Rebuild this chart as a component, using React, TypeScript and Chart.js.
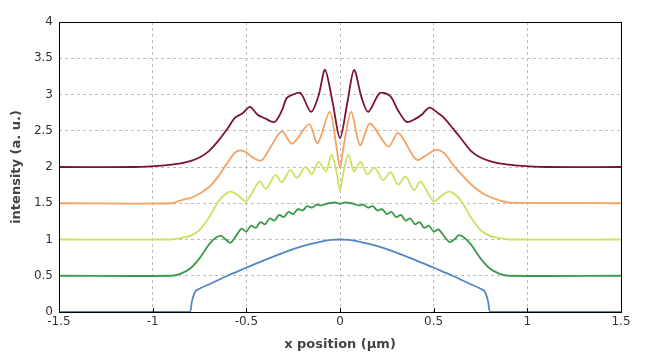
import React, { useEffect, useRef } from 'react';
import { Chart, registerables } from 'chart.js';

Chart.register(...registerables);

// Axis tick values
const X_TICKS = [-1.5, -1, -0.5, 0, 0.5, 1, 1.5];
const Y_TICKS = [0, 0.5, 1, 1.5, 2, 2.5, 3, 3.5, 4];

// Series 1 (blue, baseline 0)
const X1 = [-1.5, -0.8, -0.79, -0.775, -0.75, -0.7, -0.6, -0.5, -0.4, -0.3, -0.2, -0.1, -0.05, 0, 0.05, 0.1, 0.2, 0.3, 0.4, 0.5, 0.6, 0.7, 0.75, 0.775, 0.79, 0.8, 1.5];
const Y1 = [0, 0, 0.15, 0.27, 0.32, 0.38, 0.5, 0.61, 0.72, 0.82, 0.91, 0.97, 0.995, 1.0, 0.995, 0.97, 0.91, 0.82, 0.72, 0.61, 0.5, 0.38, 0.32, 0.27, 0.15, 0, 0];

// Series 2 (green, baseline 0.5)
const X2 = [-1.5, -0.9, -0.85, -0.8, -0.75, -0.7, -0.66, -0.635, -0.61, -0.585, -0.555, -0.525, -0.5, -0.475, -0.45, -0.425, -0.4, -0.375, -0.35, -0.325, -0.3, -0.275, -0.25, -0.225, -0.2, -0.175, -0.15, -0.125, -0.1, -0.06, -0.02, 0, 0.02, 0.06, 0.1, 0.125, 0.15, 0.175, 0.2, 0.225, 0.25, 0.275, 0.3, 0.325, 0.35, 0.375, 0.4, 0.425, 0.45, 0.475, 0.5, 0.525, 0.555, 0.585, 0.61, 0.635, 0.66, 0.7, 0.75, 0.8, 0.85, 0.9, 1.5];
const Y2 = [0.5, 0.5, 0.53, 0.6, 0.74, 0.93, 1.03, 1.05, 1.0, 0.955, 1.05, 1.15, 1.11, 1.19, 1.16, 1.24, 1.21, 1.29, 1.26, 1.34, 1.31, 1.38, 1.35, 1.42, 1.4, 1.46, 1.44, 1.48, 1.47, 1.5, 1.51, 1.49, 1.51, 1.5, 1.47, 1.48, 1.44, 1.46, 1.4, 1.42, 1.35, 1.38, 1.31, 1.34, 1.26, 1.29, 1.21, 1.24, 1.16, 1.19, 1.11, 1.14, 1.05, 0.965, 1.0, 1.06, 1.03, 0.93, 0.74, 0.6, 0.53, 0.5, 0.5];

// Series 3 (yellow-green, baseline 1)
const X3 = [-1.5, -0.9, -0.85, -0.8, -0.75, -0.7, -0.65, -0.61, -0.58, -0.55, -0.5, -0.43, -0.395, -0.345, -0.31, -0.265, -0.23, -0.185, -0.15, -0.115, -0.075, -0.045, -0.02, 0, 0.02, 0.045, 0.075, 0.11, 0.145, 0.185, 0.23, 0.27, 0.31, 0.35, 0.395, 0.43, 0.5, 0.55, 0.58, 0.61, 0.65, 0.7, 0.75, 0.8, 0.85, 0.9, 1.5];
const Y3 = [1.0, 1.0, 1.02, 1.05, 1.13, 1.3, 1.52, 1.63, 1.66, 1.62, 1.53, 1.8, 1.7, 1.89, 1.79, 1.96, 1.85, 2.0, 1.9, 2.07, 1.94, 2.17, 1.95, 1.68, 1.95, 2.17, 1.94, 2.07, 1.9, 1.99, 1.82, 1.93, 1.76, 1.87, 1.68, 1.8, 1.53, 1.62, 1.66, 1.63, 1.52, 1.3, 1.13, 1.05, 1.02, 1.0, 1.0];

// Series 4 (orange, baseline 1.5)
const X4 = [-1.5, -0.9, -0.85, -0.78, -0.7, -0.65, -0.6, -0.56, -0.53, -0.5, -0.47, -0.42, -0.37, -0.31, -0.255, -0.165, -0.12, -0.055, -0.02, 0, 0.02, 0.06, 0.107, 0.16, 0.258, 0.311, 0.409, 0.47, 0.516, 0.56, 0.6, 0.658, 0.7, 0.765, 0.85, 0.907, 1.5];
const Y4 = [1.5, 1.5, 1.54, 1.59, 1.72, 1.87, 2.06, 2.2, 2.23, 2.2, 2.14, 2.09, 2.28, 2.49, 2.32, 2.59, 2.33, 2.76, 2.3, 1.99, 2.3, 2.76, 2.3, 2.6, 2.28, 2.47, 2.1, 2.18, 2.24, 2.18, 2.04, 1.87, 1.76, 1.63, 1.54, 1.51, 1.5];

// Series 5 (dark red, baseline 2)
const X5 = [-1.5, -1.1, -0.95, -0.85, -0.8, -0.75, -0.7, -0.65, -0.6, -0.56, -0.52, -0.48, -0.44, -0.4, -0.35, -0.31, -0.285, -0.25, -0.21, -0.155, -0.115, -0.08, -0.04, 0, 0.04, 0.075, 0.115, 0.151, 0.213, 0.267, 0.31, 0.356, 0.4, 0.436, 0.477, 0.52, 0.55, 0.6, 0.65, 0.7, 0.75, 0.8, 0.85, 0.95, 1.1, 1.5];
const Y5 = [2.0, 2.0, 2.02, 2.05, 2.08, 2.13, 2.22, 2.36, 2.53, 2.68, 2.74, 2.83, 2.72, 2.67, 2.62, 2.78, 2.95, 3.0, 3.02, 2.76, 2.98, 3.34, 2.9, 2.4, 2.9, 3.34, 2.96, 2.76, 3.02, 2.98, 2.78, 2.62, 2.66, 2.72, 2.82, 2.75, 2.69, 2.54, 2.38, 2.22, 2.13, 2.08, 2.05, 2.02, 2.0, 2.0];

const SERIES = [
  { x: X1, y: Y1, color: '#5287c4', mono: true },
  { x: X2, y: Y2, color: '#3d9a4a', mono: false },
  { x: X3, y: Y3, color: '#cfe060', mono: false },
  { x: X4, y: Y4, color: '#f4a261', mono: false },
  { x: X5, y: Y5, color: '#7c1233', mono: false },
];

const fmt = (v: number) => String(Math.round(v * 10) / 10);

const framePlugin = {
  id: 'frame',
  afterDatasetsDraw(chart: any) {
    const { ctx, chartArea } = chart;
    const xs = chart.scales.x;
    ctx.save();
    ctx.strokeStyle = '#000';
    ctx.lineWidth = 1;
    ctx.setLineDash([]);
    ctx.strokeRect(Math.round(chartArea.left) + 0.5, Math.round(chartArea.top) + 0.5, Math.round(chartArea.right - chartArea.left), Math.round(chartArea.bottom - chartArea.top));
    ctx.beginPath();
    X_TICKS.forEach((t) => {
      const px = Math.round(xs.getPixelForValue(t)) + 0.5;
      ctx.moveTo(px, chartArea.bottom);
      ctx.lineTo(px, chartArea.bottom - 4);
    });
    ctx.stroke();
    ctx.restore();
  },
};

export default function App() {
  const ref = useRef<HTMLCanvasElement | null>(null);
  useEffect(() => {
    document.body.style.margin = '0';
    if (!ref.current) return;
    const chart = new Chart(ref.current, {
      type: 'line',
      data: {
        datasets: SERIES.map((s) => ({
          data: s.x.map((xv, i) => ({ x: xv, y: s.y[i] })),
          borderColor: s.color,
          borderWidth: 1.8,
          pointRadius: 0,
          fill: false,
          tension: s.mono ? 0 : 0.3,
          cubicInterpolationMode: s.mono ? ('monotone' as const) : ('default' as const),
        })),
      },
      options: {
        animation: false,
        responsive: false,
        events: [],
        layout: { padding: { top: 22, right: 44, left: 0, bottom: 0 } },
        plugins: { legend: { display: false }, tooltip: { enabled: false } },
        scales: {
          x: {
            type: 'linear',
            min: -1.5,
            max: 1.5,
            afterFit: (s: any) => { s.height = 44; },
            afterBuildTicks: (s: any) => { s.ticks = X_TICKS.map((v) => ({ value: v })); },
            ticks: { callback: (v: any) => fmt(Number(v)), padding: 3, color: '#333', font: { family: 'DejaVu Sans', size: 12 }, maxRotation: 0 },
            grid: {
              drawTicks: false,
              color: (c: any) => (c.tick && (c.tick.value === -1.5 || c.tick.value === 1.5) ? 'rgba(0,0,0,0)' : '#bdbdbd'),
              lineWidth: 1,
            },
            border: { display: false, dash: [3, 3] },
            title: { display: true, text: 'x position (µm)', color: '#444', font: { family: 'DejaVu Sans', size: 13, weight: 'bold' }, padding: { top: 0, bottom: 4 } },
          },
          y: {
            type: 'linear',
            min: 0,
            max: 4,
            afterFit: (s: any) => { s.width = 59; },
            afterBuildTicks: (s: any) => { s.ticks = Y_TICKS.map((v) => ({ value: v })); },
            ticks: { callback: (v: any) => fmt(Number(v)), padding: 6, color: '#333', font: { family: 'DejaVu Sans', size: 12 } },
            grid: {
              drawTicks: false,
              color: (c: any) => (c.tick && (c.tick.value === 0 || c.tick.value === 4) ? 'rgba(0,0,0,0)' : '#bdbdbd'),
              lineWidth: 1,
            },
            border: { display: false, dash: [3, 3] },
            title: { display: true, text: 'intensity (a. u.)', color: '#444', font: { family: 'DejaVu Sans', size: 13, weight: 'bold' }, padding: { top: 9, bottom: 0 } },
          },
        },
      },
      plugins: [framePlugin],
    });
    return () => chart.destroy();
  }, []);
  return (
    <div style={{ width: 665, height: 356, background: '#fff' }}>
      <canvas ref={ref} width={665} height={356} />
    </div>
  );
}
